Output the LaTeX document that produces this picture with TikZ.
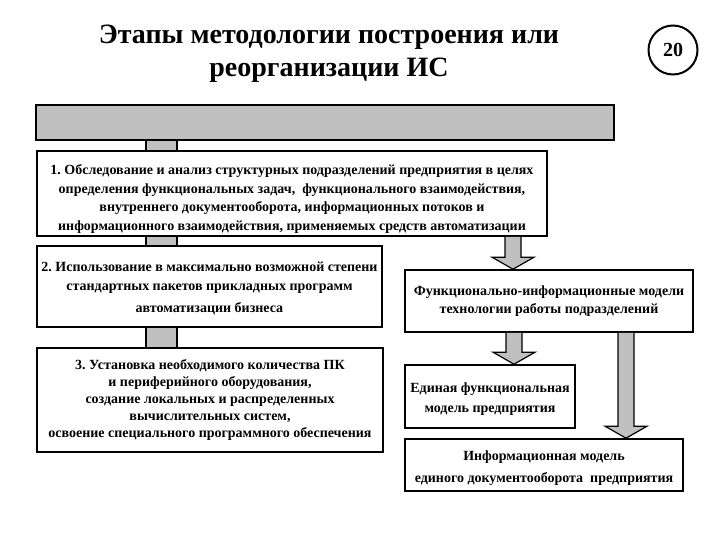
\documentclass[tikz,border=0pt]{standalone}
\usepackage{fontspec}
\setmainfont{Liberation Serif}
\usetikzlibrary{calc}
\definecolor{stubgray}{RGB}{192,192,192}
\frenchspacing
\tikzset{every picture/.style={/utils/exec={\bfseries}}}
\tikzset{x=1pt, y=-1pt,
  every node/.style={align=center},
  box/.style={      % white boxes with the stages and models
    draw, line width=1.6pt, fill=white, inner sep=1pt,
    font=\fontsize{14}{18.5}\selectfont},
  topbar/.style={draw, line width=2.2pt, fill=stubgray},
  blockarrow/.style={draw, line width=1.2pt, fill=stubgray, line join=miter},
  stubline/.style={line width=1.6pt}}

% gray link between two stage boxes (left column)
\newcommand{\stub}[2]{%
  \fill[stubgray] let \p1=(#1.south), \p2=(#2.north) in (146,\y1) rectangle (177,\y2);
  \draw[stubline] let \p1=(#1.south), \p2=(#2.north) in
    (146,\y1) -- (146,\y2) (177,\y1) -- (177,\y2);}

% wide gray arrow going down at x=#1 from node #2 to node #3
\newcommand{\blockdown}[3]{%
  \draw[blockarrow] let \p1=(#2.south), \p2=(#3.north) in
    (#1-8,\y1) -- (#1-8,\y2+12) -- (#1-21,\y2+12) -- (#1,\y2)
    -- (#1+21,\y2+12) -- (#1+8,\y2+12) -- (#1+8,\y1);}

\begin{document}
\begin{tikzpicture}
  \useasboundingbox (0,0) rectangle (720,540);

  % title and slide number
  \node[font=\fontsize{28}{33}\selectfont] (title) at (329,54) {Этапы методологии построения или\\ реорганизации ИС};
  \node[circle, draw, line width=2pt, minimum size=49, inner sep=0pt, font=\fontsize{20}{20}\selectfont] (num) at (673,50) {20};

  \node[topbar, minimum width=578, minimum height=35] (bar) at (325,122.5) {};

  % left column: stages
  \node[box, minimum width=510, minimum height=85] (obsl) at (292,193.5) {%
    \rule{0pt}{21pt}1. Обследование и анализ структурных подразделений предприятия в целях\\
    определения функциональных задач,~ функционального взаимодействия,\\
    внутреннего документооборота, информационных потоков и\\
    информационного взаимодействия, применяемых средств автоматизации};

  \node[box, minimum width=345, minimum height=81] (paket) at (209.5,286.5) {%
    \rule{0pt}{14pt}2. Использование в максимально возможной степени\\
    стандартных пакетов прикладных программ\\[4pt]
    автоматизации бизнеса};

  \node[box, minimum width=346, minimum height=104, font=\fontsize{14}{17}\selectfont] (ustan) at (210,400) {%
    3. Установка необходимого количества ПК\\
    и периферийного оборудования,\\
    создание локальных и распределенных\\
    вычислительных систем,\\
    освоение специального программного обеспечения};

  % right column: models
  \node[box, minimum width=288, minimum height=62] (fim) at (549,301) {%
    Функционально-информационные модели\\
    технологии работы подразделений};

  \node[box, minimum width=170, minimum height=63, font=\fontsize{14}{20}\selectfont] (edin) at (490,396.5) {%
    \rule{0pt}{14pt}Единая функциональная\\
    модель предприятия};

  \node[box, minimum width=278, minimum height=52, font=\fontsize{14}{22}\selectfont] (infm) at (544,465) {%
    \rule{0pt}{16pt}Информационная модель\\
    единого документооборота~ предприятия};

  % links
  \stub{bar}{obsl}
  \stub{obsl}{paket}
  \stub{paket}{ustan}

  \blockdown{513}{obsl}{fim}
  \blockdown{514}{fim}{edin}
  \blockdown{626}{fim}{infm}
\end{tikzpicture}
\end{document}
